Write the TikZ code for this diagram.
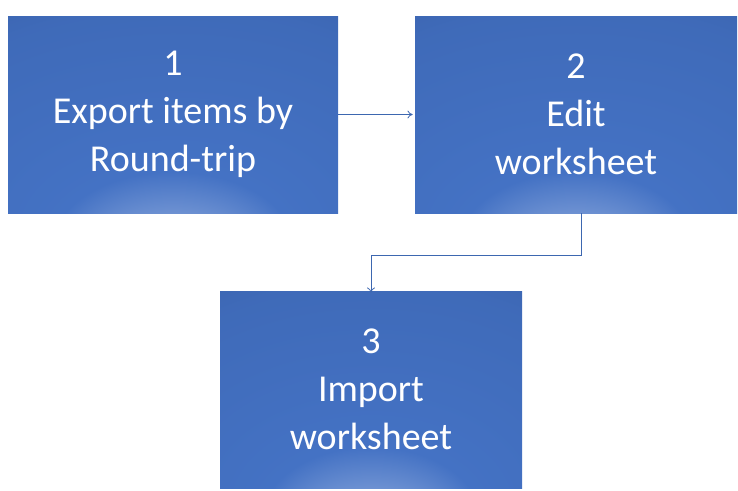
\documentclass[tikz,border=0pt]{standalone}
\usepackage{fontspec}
\setmainfont{Carlito}
\usetikzlibrary{positioning,arrows.meta}
\definecolor{edgeblue}{HTML}{2B4C8C}
\definecolor{midblue}{HTML}{4472C4}
\definecolor{glowblue}{HTML}{AFC3E8}
\pgfdeclareradialshading{boxglow}{\pgfpoint{0bp}{-42bp}}{%
  color(0bp)=(glowblue); color(18bp)=(midblue); color(45bp)=(midblue!80!edgeblue); color(80bp)=(edgeblue)}
\tikzset{
  /tikz/.cd,
  stepbox/.style={shading=boxglow,minimum height=197*0.75pt,inner sep=0pt,
    text=white,align=center,font=\fontsize{28.5pt}{36pt}\selectfont},
  link/.style={draw=midblue!90!black,line width=0.6pt,-{To[length=4pt,width=6pt]}}
}
\begin{document}
\begin{tikzpicture}[x=0.75pt,y=-0.75pt]
  \useasboundingbox (0,0) rectangle (738,490);
  \node[stepbox,minimum width=330*0.75pt] (export) at (173,114.5) {1\\Export items by\\Round-trip};
  \node[stepbox,minimum width=322*0.75pt] (edit) at (576,114.5) {2\\Edit\\worksheet};
  \node[stepbox,minimum width=302*0.75pt] (import) at (371,389.5) {3\\Import\\worksheet};

  \draw[link] (export.east) -- ([xshift=-1.5pt]edit.west);
  \coordinate (bend) at (581,255);
  \draw[link] (edit.south -| bend) -- (bend) -| ([yshift=-1.5pt]import.north);
\end{tikzpicture}
\end{document}
